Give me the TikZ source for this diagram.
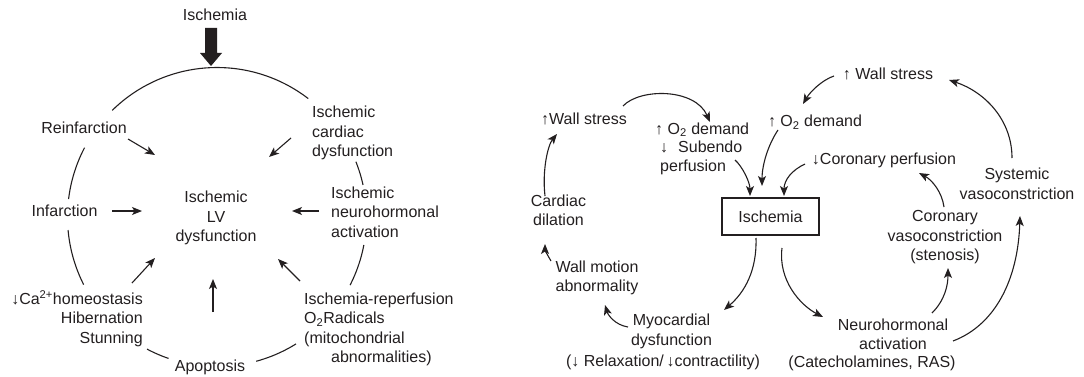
\documentclass[tikz,border=0pt]{standalone}
\usepackage{fontspec}
\setmainfont{Liberation Sans}
\usetikzlibrary{arrows.meta}
\definecolor{ink}{HTML}{231F20}
\begin{document}
\begin{tikzpicture}[x=1pt,y=-1pt,
  txt/.style={font=\fontsize{16}{19.5}\selectfont, inner sep=0pt, text=ink},
  arr/.style={draw=ink, line width=1.1pt, -{Stealth[length=10pt,width=8pt,inset=2.5pt]}},
  ring/.style={draw=ink, line width=1.1pt},
  boxed/.style={txt, draw=ink, line width=1.1pt, minimum width=97pt, minimum height=37pt}]
\useasboundingbox[fill=white] (0,0) rectangle (1084,377);

% ---------------- Left diagram ----------------
\node[txt] (isch) at (215,15) {Ischemia};
\coordinate (thickTop) at (211,28);
\coordinate (thickTip) at (211,66);
\fill[ink] (thickTop) ++(-6,0) -- ++(0,25) -- ++(-5,0) -- (thickTip) -- ++(11,-13) -- ++(-5,0) -- ++(0,-25) -- cycle;

% circle segments
\foreach \a/\b in {-134.5/-52.4, -173.1/-152.4, 153.1/175, 108.9/117.9, 58.1/74.8, 10.8/27.1, -21.7/-12.4}
  \draw[ring] plot[domain=\a:\b, samples=40] ({217+149.5*cos(\x)},{217+149.5*sin(\x)});

\node[txt] (reinf) at (84,128) {Reinfarction};
\node[txt, align=left, anchor=west] (icd) at (312,133) {Ischemic\\cardiac\\dysfunction};
\node[txt, align=left, anchor=west] (inh) at (331,212) {Ischemic\\neurohormonal\\activation};
\node[txt] (infarc) at (64.5,211) {Infarction};
\node[txt, align=center] (lv) at (216,218) {Ischemic\\LV\\dysfunction};
\node[txt, align=right, anchor=east] (ca) at (143,318.5) {↓Ca\textsuperscript{2+}homeostasis\\Hibernation\\Stunning};
\node[txt] (apop) at (210,367) {Apoptosis};
\node[txt, align=left, anchor=west] (irp) at (304,329.5) {Ischemia-reperfusion\\O\textsubscript{2}Radicals\\(mitochondrial\\\hspace*{27pt}abnormalities)};

\coordinate (r1s) at (128,139); \coordinate (r1e) at (155,155);
\coordinate (r2s) at (291,138); \coordinate (r2e) at (269,157);
\coordinate (r3s) at (112,211); \coordinate (r3e) at (142,211);
\coordinate (r4s) at (319,211); \coordinate (r4e) at (292,211);
\coordinate (r5s) at (132,283); \coordinate (r5e) at (155,258);
\coordinate (r6s) at (213,312); \coordinate (r6e) at (213,279);
\coordinate (r7s) at (300,281); \coordinate (r7e) at (278,259);
\foreach \i in {1,...,7} \draw[arr] (r\i s) -- (r\i e);

% ---------------- Right diagram ----------------
\node[boxed] (box) at (770.5,216.5) {Ischemia};
\node[txt] (lws) at (584,119) {↑Wall stress};
\node[txt, align=left, anchor=west, font=\fontsize{16}{18.5}\selectfont] (o2a) at (655,148.5)
  {↑ O\textsubscript{2} demand\\\hspace*{5pt}↓\hspace*{10pt}Subendo\\\hspace*{5pt}perfusion};
\node[txt] (ro2) at (815,122) {↑ O\textsubscript{2} demand};
\node[txt] (cp) at (884,160) {↓Coronary perfusion};
\node[txt] (tws) at (888,74) {↑ Wall stress};
\node[txt, align=center] (sys) at (1017,184) {Systemic\\vasoconstriction};
\node[txt, align=center] (cvc) at (945,237.5) {Coronary\\vasoconstriction\\(stenosis)};
\node[txt, align=center] (nh) at (893,334.5) {Neurohormonal\\activation};
\node[txt] (nhcat) at (872,363) {(Catecholamines, RAS)};
\node[txt, align=center] (myo) at (671.5,331.5) {Myocardial\\dysfunction};
\node[txt] (myocat) at (663,362) {(↓ Relaxation/\,↓contractility)};
\node[txt, align=center] (wma) at (597,278) {Wall motion\\abnormality};
\node[txt, align=center] (cd) at (558.5,210.5) {Cardiac\\dilation};

% connector end points
\coordinate (a1s) at (623,106);  \coordinate (a1e) at (710,122);
\coordinate (a2s) at (735,160);  \coordinate (a2e) at (750,196);
\coordinate (a3s) at (778,130);  \coordinate (a3e) at (762,186);
\coordinate (a4s) at (805,164);  \coordinate (a4e) at (784,196);
\coordinate (a5s) at (834,76);   \coordinate (a5e) at (803,104);
\coordinate (a6s) at (1012,158); \coordinate (a6e) at (949,80);
\coordinate (a7s) at (944,207);  \coordinate (a7e) at (919,173);
\coordinate (a8s) at (932,313);  \coordinate (a8e) at (948,268);
\coordinate (a9s) at (953,341);  \coordinate (a9e) at (1020,216);
\coordinate (a10s) at (756,238); \coordinate (a10e) at (724,310);
\coordinate (a11s) at (782,248); \coordinate (a11e) at (823,317);
\coordinate (a12s) at (628,327); \coordinate (a12e) at (605,305);
\coordinate (a13s) at (551,261); \coordinate (a13e) at (545,244);
\coordinate (a14s) at (545,196); \coordinate (a14e) at (557,134);

\draw[arr] (a1s) .. controls (640,88) and (695,88) .. (a1e);
\draw[arr] (a2s) .. controls (742,166) and (750,182) .. (a2e);
\draw[arr] (a3s) .. controls (768,145) and (762,165) .. (a3e);
\draw[arr] (a4s) .. controls (792,170) and (784,180) .. (a4e);
\draw[arr] (a5s) .. controls (822,80) and (810,92) .. (a5e);
\draw[arr] (a6s) .. controls (1012,120) and (985,92) .. (a6e);
\draw[arr] (a7s) .. controls (942,192) and (932,180) .. (a7e);
\draw[arr] (a8s) .. controls (945,300) and (948,285) .. (a8e);
\draw[arr] (a9s) .. controls (995,325) and (1018,280) .. (a9e);
\draw[arr] (a10s) .. controls (757,270) and (745,292) .. (a10e);
\draw[arr] (a11s) .. controls (778,280) and (800,305) .. (a11e);
\draw[arr] (a12s) .. controls (615,325) and (608,315) .. (a12e);
\draw[arr] (a13s) .. controls (548,256) and (545,250) .. (a13e);
\draw[arr] (a14s) .. controls (542,170) and (548,145) .. (a14e);
\end{tikzpicture}
\end{document}
